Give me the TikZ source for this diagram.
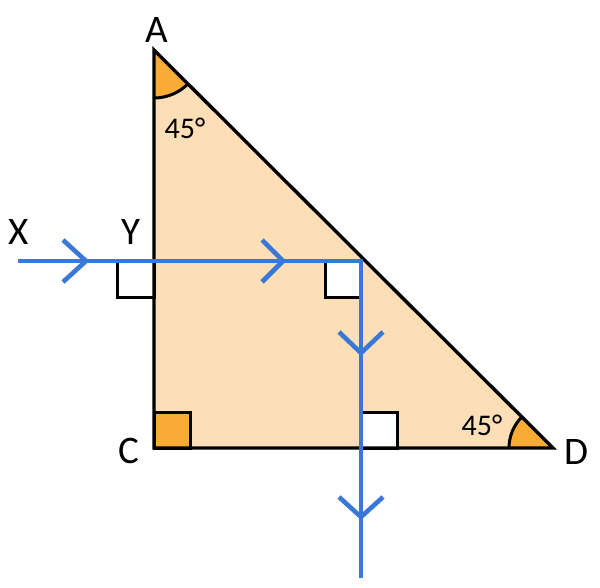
\documentclass[tikz,border=0pt]{standalone}
\usepackage{fontspec}
\setmainfont{Carlito}
\definecolor{lightor}{HTML}{FDDFB7}
\definecolor{darkor}{HTML}{F8AB35}
\definecolor{ray}{HTML}{3A78D8}
\begin{document}
\begin{tikzpicture}[x=1pt,y=-1pt,
  edge/.style={draw=black,line width=3.4pt,line join=miter},
  sq/.style={draw=black,line width=3pt},
  rayline/.style={draw=ray,line width=4.6pt},
  chev/.style={draw=ray,line width=4.6pt,line join=miter},
  lbl/.style={font=\fontsize{39}{39}\selectfont,inner sep=0pt},
  ang/.style={font=\fontsize{30}{30}\selectfont,inner sep=0pt}]
\useasboundingbox (0,0) rectangle (600,588);
\coordinate (A) at (154,50);
\coordinate (C) at (154,448);
\coordinate (D) at (553,448);
\coordinate (X0) at (18,261);
\coordinate (P) at (361,261);
\coordinate (Q) at (361,448);
\coordinate (E) at (361,578);
% triangle fill
\fill[lightor] (A) -- (C) -- (D) -- cycle;
% angle wedges
\fill[darkor] (A) -- ++(0,48) arc[start angle=90,end angle=45,radius=48] -- cycle;
\draw[sq] (A) ++(0,48) arc[start angle=90,end angle=45,radius=48];
\fill[darkor] (D) -- ++(-44,0) arc[start angle=180,end angle=225,radius=44] -- cycle;
\draw[sq] (D) ++(-44,0) arc[start angle=180,end angle=225,radius=44];
% right-angle marks
\filldraw[fill=darkor,sq] (154,412) rectangle (190,448);
\filldraw[fill=white,sq] (117,261) rectangle (154,297);
\filldraw[fill=white,sq] (325,261) rectangle (361,297);
\filldraw[fill=white,sq] (361,412) rectangle (397,448);
% triangle outline
\draw[edge] (A) -- (C) -- (D) -- cycle;
% ray
\draw[rayline,line join=miter] (X0) -- (P) -- (E);
\draw[chev] (63,240) -- (86,261) -- (63,282);
\draw[chev] (262,240) -- (283,261) -- (262,282);
\draw[chev] (339,332) -- (361,353) -- (383,332);
\draw[chev] (339,497) -- (361,517) -- (383,497);
% labels
\node[lbl] (lA) at (157,30) {A};
\node[lbl] (lC) at (129,451) {C};
\node[lbl] (lD) at (576,452) {D};
\node[lbl] (lX) at (19,232) {X};
\node[lbl] (lY) at (131,232) {Y};
\node[ang] (a1) at (185,128) {45°};
\node[ang] (a2) at (482,425) {45°};
\end{tikzpicture}
\end{document}
